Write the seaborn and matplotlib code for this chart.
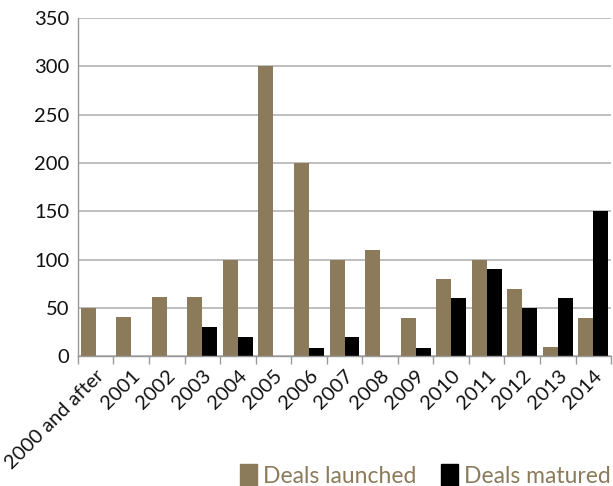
import matplotlib
matplotlib.use("Agg")
import matplotlib.pyplot as plt
import seaborn as sns
import pandas as pd
import numpy as np
from matplotlib.patches import Patch

categories = ["2000 and after", "2001", "2002", "2003", "2004", "2005", "2006", "2007",
              "2008", "2009", "2010", "2011", "2012", "2013", "2014"]
launched = [50, 41, 61, 61, 100, 300, 200, 100, 110, 40, 80, 100, 70, 10, 40]
matured = [0, 0, 0, 30, 20, 0, 9, 20, 0, 9, 60, 90, 50, 60, 150]
series_names = ["Deals launched", "Deals matured"]
yticks = [0, 50, 100, 150, 200, 250, 300, 350]

tan = "#8B7B5A"
colors = [tan, "#000000"]

df = pd.DataFrame({
    "Year": categories * 2,
    "Value": launched + matured,
    "Series": [series_names[0]] * len(categories) + [series_names[1]] * len(categories),
})

sns.set_theme(style="white")
plt.rcParams['font.family'] = ['Lato', 'DejaVu Sans']

fig = plt.figure(figsize=(6.13, 4.86), dpi=100)
ax = fig.add_axes([0.127, 0.267, 0.87, 0.696])

sns.barplot(data=df, x="Year", y="Value", hue="Series", palette=colors,
            width=0.84, ax=ax, legend=False, saturation=1, linewidth=0)

ax.set_ylim(0, 350)
ax.set_xlim(-0.5, len(categories) - 0.5)
ax.set_yticks(yticks)
ax.yaxis.grid(True, color="#b3b3b3", linewidth=1.2)
ax.set_axisbelow(True)
ax.set_xlabel("")
ax.set_ylabel("")

ax.set_xticks(range(len(categories)))
ax.set_xticklabels(categories, rotation=45, ha="right", rotation_mode="anchor", fontsize=14.5)
ax.set_xticks(np.arange(-0.5, len(categories), 1), minor=True)
ax.tick_params(axis="x", which="major", length=0, pad=8, labelcolor="#111111")
ax.tick_params(axis="x", which="minor", length=6, color="#999999", width=1, direction="out", bottom=True)
ax.tick_params(axis="y", labelsize=14.5, length=0, pad=6, labelcolor="#111111")

for s in ["top", "right"]:
    ax.spines[s].set_visible(False)
for s in ["left", "bottom"]:
    ax.spines[s].set_color("#999999")
    ax.spines[s].set_linewidth(1)

handles = [Patch(facecolor=c, edgecolor=c) for c in colors]
leg = fig.legend(handles, series_names, loc="lower right", bbox_to_anchor=(1.03, -0.045),
                 ncol=2, frameon=False, fontsize=16.5, handlelength=0.75, handleheight=1.15,
                 handletextpad=0.25, columnspacing=1.1)
for t in leg.get_texts():
    t.set_color(tan)

fig.savefig("out.png", dpi=100)
